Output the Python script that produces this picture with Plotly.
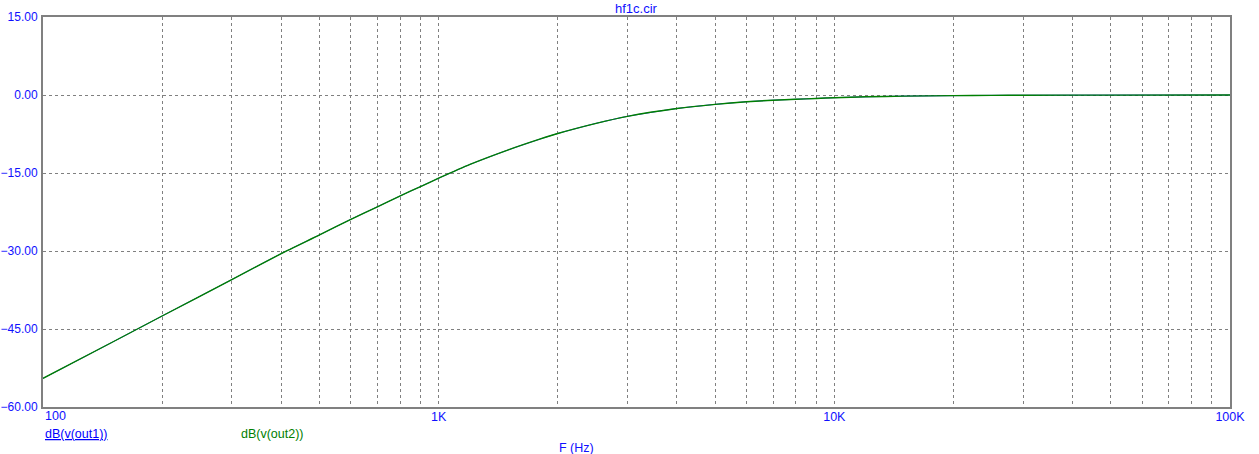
import plotly.graph_objects as go

# Data (frequency in Hz, magnitude in dB)
freq_hz = [100, 150, 200, 300, 400, 500, 600, 700, 800, 900, 1000, 1200, 1500, 1800,
           2000, 2500, 3000, 4000, 5000, 6000, 7000, 8000, 9000, 10000, 12000, 15000,
           20000, 25000, 30000, 50000, 100000]
db_out1 = [-54.5, -47.5, -42.5, -35.5, -30.5, -26.9, -23.9, -21.5, -19.4, -17.6, -16.0,
           -13.35, -10.55, -8.5, -7.4, -5.45, -4.1, -2.6, -1.8, -1.3, -1.0, -0.82, -0.66,
           -0.52, -0.35, -0.22, -0.12, -0.07, -0.05, -0.02, 0.0]
db_out2 = [-54.5, -47.5, -42.5, -35.5, -30.5, -26.9, -23.9, -21.5, -19.4, -17.6, -16.0,
           -13.35, -10.55, -8.5, -7.4, -5.45, -4.1, -2.6, -1.8, -1.3, -1.0, -0.82, -0.66,
           -0.52, -0.35, -0.22, -0.12, -0.07, -0.05, -0.02, 0.0]

y_ticks = [15, 0, -15, -30, -45, -60]
decades = [100, 1000, 10000, 100000]
decade_labels = ["100", "1K", "10K", "100K"]

x_grid = []
x_text = []
for i, d in enumerate(decades[:-1]):
    for m in range(1, 10):
        x_grid.append(d * m)
        # the first label ("100") is drawn as a left-aligned annotation below
        x_text.append(decade_labels[i] if (m == 1 and i > 0) else "")
x_grid.append(decades[-1])
x_text.append(decade_labels[-1])

BLUE_TXT = "#1010ff"
FONT = "Arial, Liberation Sans, sans-serif"

fig = go.Figure()
fig.add_trace(go.Scatter(x=freq_hz, y=db_out1, mode="lines", name="dB(v(out1))",
                         line=dict(color="#0000ff", width=0.8, shape="spline", smoothing=0.6)))
fig.add_trace(go.Scatter(x=freq_hz, y=db_out2, mode="lines", name="dB(v(out2))",
                         line=dict(color="#008000", width=1.4, shape="spline", smoothing=0.6)))

fig.update_layout(
    width=1259, height=454, autosize=False,
    margin=dict(l=43, r=29, t=17, b=47, pad=0),
    paper_bgcolor="white", plot_bgcolor="white",
    showlegend=False,
    font=dict(family=FONT, size=12, color=BLUE_TXT),
)
fig.update_xaxes(
    type="log", range=[2, 5], automargin=False,
    tickvals=x_grid, ticktext=x_text,
    showgrid=True, gridcolor="#808080", griddash="3px,3px", gridwidth=1,
    showline=True, linecolor="#808080", linewidth=2, mirror=True,
    ticks="", zeroline=False, ticklabelstandoff=-3,
    tickfont=dict(family=FONT, size=12.5, color=BLUE_TXT),
)
fig.update_yaxes(
    range=[-60, 15], tickvals=y_ticks, tickformat=".2f", automargin=False,
    showgrid=True, gridcolor="#808080", griddash="3px,3px", gridwidth=1,
    showline=True, linecolor="#808080", linewidth=2, mirror=True,
    ticks="", zeroline=False, ticklabelstandoff=1,
    tickfont=dict(family=FONT, size=12, color=BLUE_TXT),
)

fig.add_annotation(text=decade_labels[0], xref="x", yref="paper", x=2, y=0,
                   xanchor="left", yanchor="top", showarrow=False, xshift=0, yshift=0,
                   font=dict(family=FONT, size=12.5, color=BLUE_TXT))
fig.add_annotation(text="hf1c.cir", xref="paper", yref="paper", x=0.4996, y=1,
                   yanchor="bottom", xanchor="center", showarrow=False, yshift=-1,
                   font=dict(family=FONT, size=13, color=BLUE_TXT))
fig.add_annotation(text="<u>dB(v(out1))</u>", xref="paper", yref="paper", x=0, y=0,
                   xanchor="left", yanchor="top", showarrow=False, yshift=-18,
                   font=dict(family=FONT, size=12.5, color="#0000ff"))
fig.add_annotation(text="dB(v(out2))", xref="paper", yref="paper", x=(239 - 43) / 1187, y=0,
                   xanchor="left", yanchor="top", showarrow=False, yshift=-18,
                   font=dict(family=FONT, size=12.5, color="#008000"))
fig.add_annotation(text="F (Hz)", xref="paper", yref="paper", x=(576 - 43) / 1187, y=0,
                   xanchor="center", yanchor="middle", showarrow=False, yshift=-41,
                   font=dict(family=FONT, size=12.5, color=BLUE_TXT))

fig.write_html("out.html",
               config={"displayModeBar": False},
               post_script="document.body.style.margin='0px';"
                           "document.body.style.overflow='hidden';")
